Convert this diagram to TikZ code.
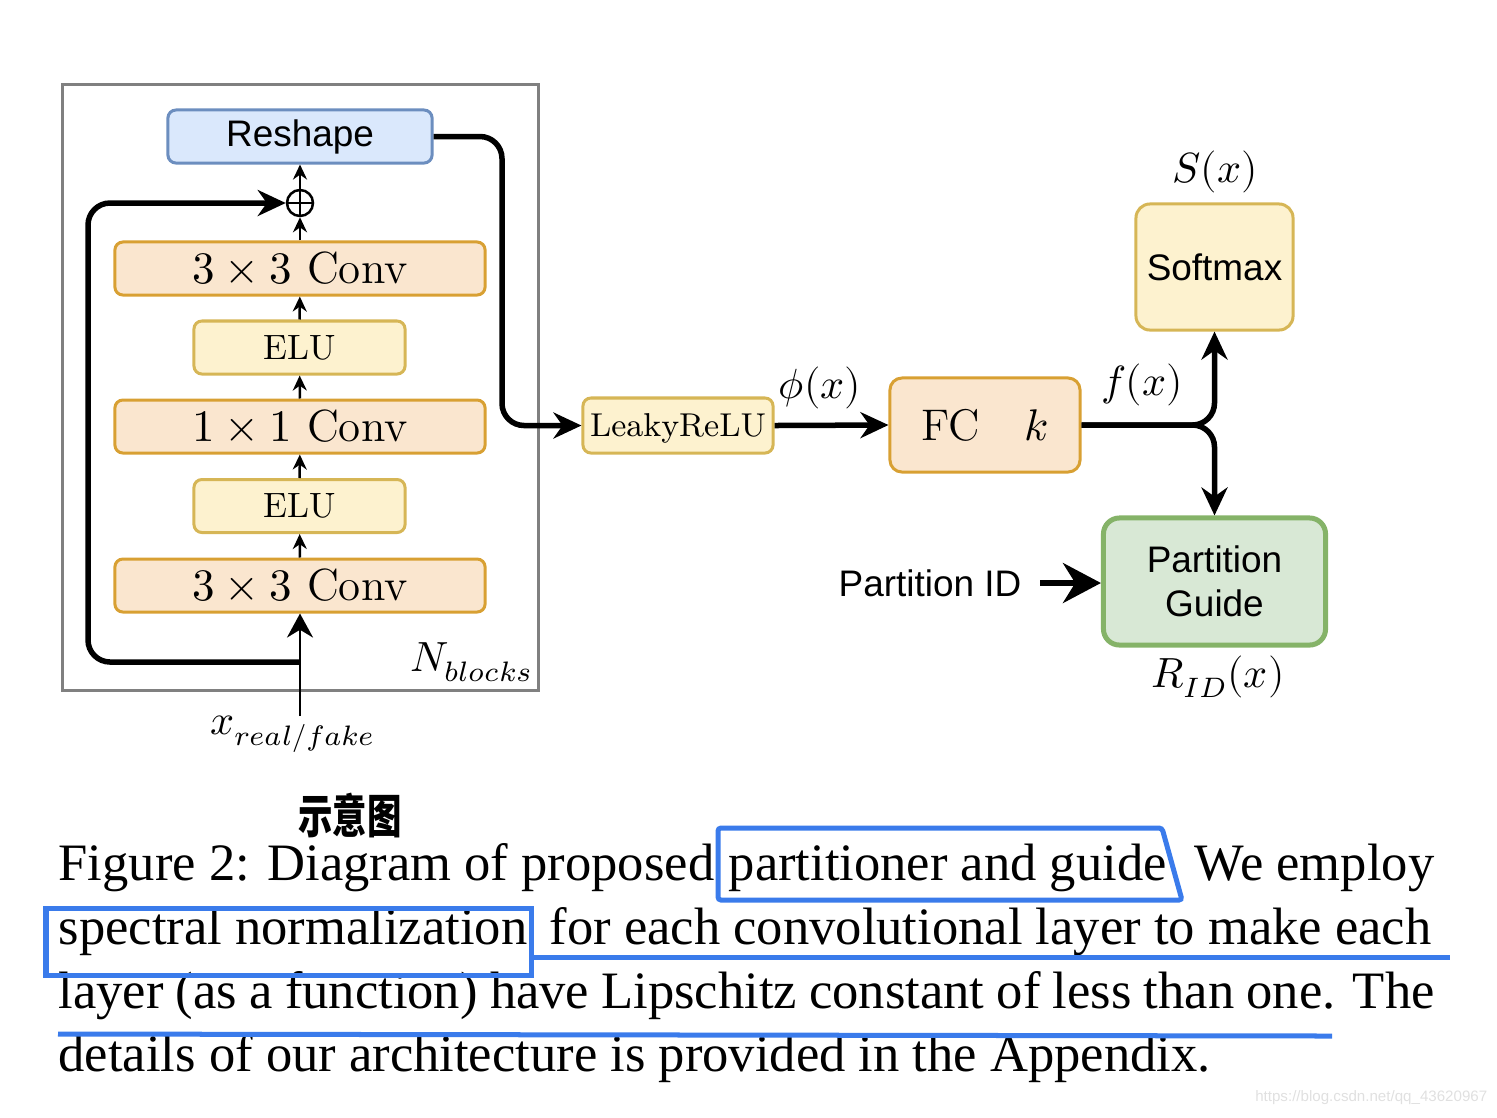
\documentclass[tikz,border=0pt]{standalone}
\usepackage{fontspec}
\usepackage{amsmath}
\usepackage{unicode-math}
\usetikzlibrary{arrows.meta}
\newfontfamily\sansf{Liberation Sans}
\newfontfamily\capf{Liberation Serif}
\newfontfamily\cjkf{Noto Sans CJK SC}
\definecolor{reshF}{HTML}{DAE8FC}
\definecolor{reshD}{HTML}{6C8EBF}
\definecolor{convF}{HTML}{FAE6CF}
\definecolor{convD}{HTML}{D8A033}
\definecolor{eluF}{HTML}{FDF2CF}
\definecolor{eluD}{HTML}{D6B656}
\definecolor{guideF}{HTML}{D8E8D5}
\definecolor{guideD}{HTML}{85B368}
\definecolor{annotB}{HTML}{3A7BEB}

\begin{document}
\begin{tikzpicture}[
    x=0.01cm,y=-0.01cm,
    blk/.style={draw,rounded corners=0.08cm,line width=0.03cm,inner sep=0pt,minimum height=0.53cm},
    conv/.style={blk,draw=convD,fill=convF,minimum width=3.7cm,font=\fontsize{12.8}{14}\selectfont},
    elu/.style={blk,draw=eluD,fill=eluF,minimum width=2.11cm,font=\fontsize{10}{12}\selectfont},
    sanslbl/.style={font=\sansf\fontsize{10.5}{12.5}\selectfont},
    lbl/.style={inner sep=0pt,font=\fontsize{12}{14}\selectfont},
    smallarr/.style={line width=0.025cm,-{Stealth[length=0.15cm,width=0.14cm]}},
    bigarr/.style={line width=0.055cm,rounded corners=0.22cm,-{Stealth[length=0.28cm,width=0.26cm]}},
    capline/.style={anchor=base west,inner sep=0pt,font=\capf\fontsize{14.95}{17}\selectfont},
    annot/.style={draw=annotB,line width=0.05cm}
    ]
    \useasboundingbox (0,0) rectangle (1497,1117);
    % residual block
    \draw[black!50, line width=0.03cm] (62,84) rectangle (538,690);
    \node[blk,draw=reshD,fill=reshF,minimum width=2.64cm,sanslbl] (reshape) at (300,136.5) {Reshape};
    \node[draw,circle,line width=0.025cm,minimum size=0.26cm,inner sep=0pt] (plus) at (300,203) {};
    \draw[line width=0.025cm] (plus.north) -- (plus.south) (plus.west) -- (plus.east);
    \node[conv] (convb) at (300,268.5) {$3\times 3$ Conv};
    \node[elu] (elub) at (299.5,347.5) {ELU};
    \node[conv] (convm) at (300,426.5) {$1\times 1$ Conv};
    \node[elu] (elua) at (299.5,506) {ELU};
    \node[conv] (conva) at (300,585.5) {$3\times 3$ Conv};
    \coordinate (xin) at (300,716);
    \coordinate (skip) at (300,662);
    \node[lbl] (xlbl) at (293,734) {$x_{real/fake}$};
    \node[lbl] (nblk) at (472,662) {$N_{blocks}$};
    \draw[line width=0.025cm,-{Stealth[length=0.24cm,width=0.26cm]}] (xin) -- (conva.south);
    \draw[smallarr] (conva) -- (elua);
    \draw[smallarr] (elua) -- (convm);
    \draw[smallarr] (convm) -- (elub);
    \draw[smallarr] (elub) -- (convb);
    \draw[smallarr] (convb) -- (plus);
    \draw[smallarr] (plus) -- (reshape);
    \draw[bigarr] (skip) -- (88,662) |- (plus.west);
    % head
    \node[blk,draw=eluD,fill=eluF,minimum width=1.9cm,minimum height=0.55cm,text depth=0pt,font=\fontsize{9.4}{11}\selectfont] (leaky) at (678,425.5) {LeakyReLU};
    \node[blk,draw=convD,fill=convF,minimum width=1.9cm,minimum height=0.94cm,rounded corners=0.12cm,font=\fontsize{12.6}{14}\selectfont] (fc) at (985,425) {FC\quad$k$};
    \node[blk,draw=eluD,fill=eluF,minimum width=1.57cm,minimum height=1.26cm,rounded corners=0.14cm,sanslbl] (soft) at (1214.5,267) {Softmax};
    \node[blk,draw=guideD,fill=guideF,minimum width=2.22cm,minimum height=1.27cm,rounded corners=0.16cm,line width=0.05cm,sanslbl,align=center] (guide) at (1214.5,581.5) {Partition\\Guide};
    \node[sanslbl,inner xsep=0.18cm,inner ysep=0pt] (pid) at (930,583) {Partition ID};
    \node[lbl] (phi) at (820,388) {$\phi(x)$};
    \node[lbl] (fx) at (1142,385) {$f(x)$};
    \node[lbl] (sx) at (1215,172) {$S(x)$};
    \node[lbl] (rx) at (1218,677) {$R_{ID}(x)$};
    \draw[bigarr] (reshape.east) -| (502,280) |- (leaky.west);
    \draw[bigarr] (leaky.east) -- (fc.west);
    \draw[bigarr] (fc.east) -| (soft.south);
    \draw[bigarr] (fc.east) -| (guide.north);
    \draw[line width=0.055cm,-{Stealth[length=0.38cm,width=0.4cm]}] (pid.east) -- (pid.east -| guide.west);
    % caption
    \node[font=\cjkf\bfseries\fontsize{9.8}{10}\selectfont] (hand) at (350,815) {\scalebox{1}[1.35]{示意图}};
    \node[capline] (c1a) at (58,880) {Figure 2: Diagram of proposed};
    \node[capline] (c1b) at (728,880) {partitioner and guide};
    \node[capline,anchor=base east] (c1c) at (1435,880) {We employ};
    \node[capline] (c2a) at (58,944) {spectral normalization};
    \node[capline,anchor=base east] (c2b) at (1432,944) {for each convolutional layer to make each};
    \node[capline] (c3) at (58,1008) {\hbox to 13.75cm{layer (as a function) have Lipschitz constant of less than one. The}};
    \node[capline] (c4) at (58,1071) {details of our architecture is provided in the Appendix.};
    \draw[annot,rounded corners=0.03cm] (718,828) -- (1162,828) -- (1182,900) -- (718,900) -- cycle;
    \draw[annot] (46,908) rectangle (531,975);
    \draw[annot] (531,957) -- (1450,957);
    \draw[annot] (58,1034) -- (1332,1036);
    \node[text=black!12,font=\sansf\fontsize{4.3}{5}\selectfont,anchor=east,inner sep=0pt] (wm) at (1488,1098) {https://blog.csdn.net/qq\_43620967};
\end{tikzpicture}
\end{document}
